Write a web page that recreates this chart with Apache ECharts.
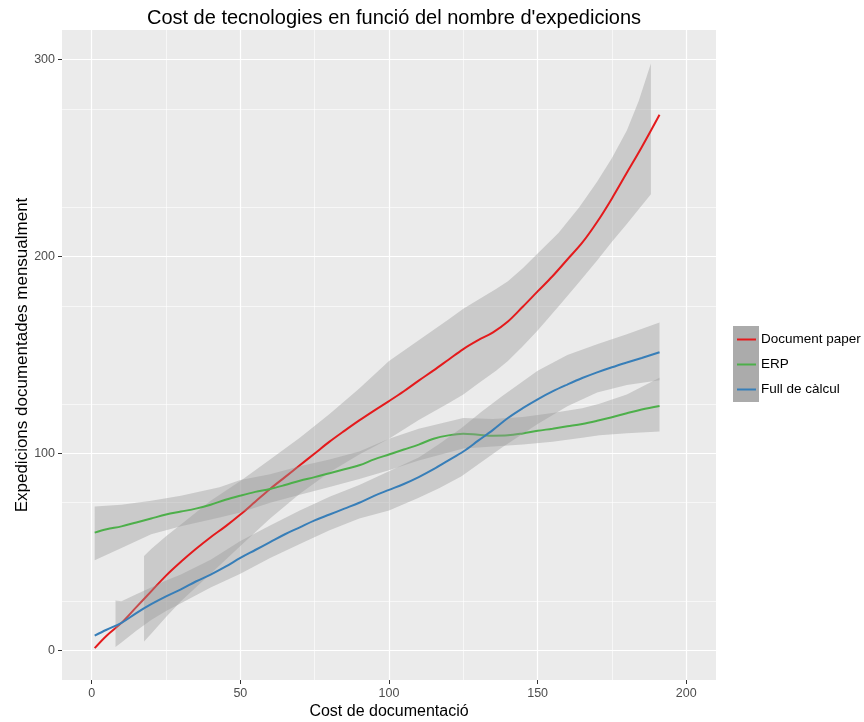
<!DOCTYPE html>
<html>
<head>
<meta charset="utf-8">
<script src="https://cdn.jsdelivr.net/npm/echarts@6/dist/echarts.min.js"></script>
<style>html,body{margin:0;padding:0;background:#fff}#c{width:864px;height:722px}</style>
</head>
<body>
<div id="c"></div>
<script>
// ---- tick labels ----
var xTicks = [0, 50, 100, 150, 200];
var yTicks = [0, 100, 200, 300];
var seriesNames = ['Document paper', 'ERP', 'Full de càlcul'];

// ---- smoothed lines ----
var paperX = [1, 5, 10, 15, 20, 25, 30, 35, 40, 45, 50, 55, 60, 65, 70, 75, 80, 85, 90, 95, 100, 105, 110, 115, 120, 125, 130, 135, 140, 145, 150, 155, 160, 165, 170, 175, 180, 185, 191];
var paperY = [1.2, 7.5, 14, 22, 30, 38, 45, 51.5, 57.5, 63, 69, 75.5, 82, 88, 94, 100, 106, 111.5, 116.8, 121.8, 126.6, 131.6, 137, 142.2, 147.6, 153, 157.5, 161.5, 167, 174.5, 182.3, 190, 198.5, 207, 217.5, 229.5, 242.5, 255.5, 272];

var erpX = [1, 5, 10, 15, 20, 25, 30, 35, 40, 45, 50, 55, 60, 65, 70, 75, 80, 85, 90, 95, 100, 105, 110, 115, 120, 125, 130, 135, 140, 145, 150, 155, 160, 165, 170, 175, 180, 185, 191];
var erpY = [59.8, 61.5, 63, 65, 67, 69, 70.5, 72, 74, 76.5, 78.6, 80.5, 82, 84, 86.2, 88, 90, 92, 94, 97, 99.5, 102, 104.5, 107.5, 109.2, 110, 109.5, 109, 109.2, 110.2, 111.5, 112.6, 113.8, 115, 116.6, 118.4, 120.4, 122.3, 124.1];

var fullX = [1, 5, 10, 15, 20, 25, 30, 35, 40, 45, 50, 55, 60, 65, 70, 75, 80, 85, 90, 95, 100, 105, 110, 115, 120, 125, 130, 135, 140, 145, 150, 155, 160, 165, 170, 175, 180, 185, 191];
var fullY = [7.5, 10.5, 14, 19, 23.5, 27.5, 31, 35, 38.5, 42.5, 47, 51, 55, 59, 62.5, 66, 69, 72, 75, 78.5, 81.5, 84.5, 88, 92, 96.5, 101, 106.5, 112, 118, 123, 127.5, 131.5, 135, 138.3, 141.2, 143.8, 146.2, 148.5, 151.4];

// ---- confidence bands (x, lower, upper) ----
var paperBandX  = [17.6, 20, 25, 30, 40, 50, 60, 70, 80, 90, 100, 110, 120, 125, 130, 136, 140, 145, 150, 157, 164, 170, 175, 180, 184, 188.1];
var paperBandLo = [4.6, 8.5, 17, 25, 39, 53, 67, 79.5, 90.5, 99.5, 107.5, 117, 125.5, 130, 135.5, 142, 147, 154.5, 162.5, 174.6, 187, 198, 207.5, 216.5, 224, 231.6];
var paperBandHi = [48, 51.5, 58, 64, 76, 86, 97, 108, 120, 133, 147, 157.5, 168, 173.5, 178, 183.5, 187.5, 194, 201.5, 212, 225, 238, 250, 264, 279, 298];

var erpBandX  = [1, 10, 20, 30, 43, 50, 60, 70, 80, 90, 100, 110, 125, 135, 145, 155, 165, 170.8, 180, 191];
var erpBandLo = [45.8, 52, 59, 63, 67.5, 70, 75, 79, 83, 87, 91.5, 96.5, 102.5, 103.5, 104.5, 106, 108, 109.2, 110.3, 111.2];
var erpBandHi = [73.1, 74, 76, 78.5, 82.8, 86.5, 89.5, 93.5, 97, 101, 107.5, 112.5, 118, 117.5, 118.5, 120.5, 123, 125.3, 130, 138.4];

var fullBandX  = [8, 10, 15, 20, 25, 30, 40, 50, 60, 70, 80, 90, 100, 110, 117, 124.4, 131, 138, 150, 160, 170, 180, 191];
var fullBandLo = [1.7, 4, 10, 15.5, 20, 24, 32, 39, 47, 54, 61, 67, 71, 77.5, 82.5, 88.5, 95.5, 103, 115, 124, 131, 134.8, 137.2];
var fullBandHi = [25.4, 25, 28.5, 32, 35.5, 38.5, 46, 55.6, 63.5, 71, 78, 84, 91, 98, 105, 113, 121, 129, 142, 150, 155.5, 160.5, 166.5];

var colors = ['#E41A1C', '#4DAF4A', '#377EB8'];
var FONT = '"Liberation Sans", Arial, sans-serif';

function zip(xs, ys) { return xs.map(function (x, i) { return [x, ys[i]]; }); }

function band(xs, lo, hi, z) {
  return {
    type: 'custom',
    silent: true,
    z: z,
    clip: true,
    data: xs.map(function (x, i) { return [x, lo[i], hi[i]]; }),
    encode: { x: 0, y: [1, 2] },
    renderItem: function (params, api) {
      if (params.dataIndex !== 0) return null;
      var pts = [];
      for (var i = 0; i < xs.length; i++) pts.push(api.coord([xs[i], hi[i]]));
      for (var j = xs.length - 1; j >= 0; j--) pts.push(api.coord([xs[j], lo[j]]));
      return { type: 'polygon', shape: { points: pts }, style: { fill: 'rgba(153,153,153,0.4)' } };
    }
  };
}

function line(name, xs, ys, color, z) {
  return {
    type: 'line', name: name, data: zip(xs, ys), z: z,
    showSymbol: false, smooth: 0.35, silent: true,
    lineStyle: { color: color, width: 2 }, itemStyle: { color: color }
  };
}

var chart = echarts.init(document.getElementById('c'), null, { renderer: 'canvas' });
chart.setOption({
  animation: false,
  backgroundColor: '#ffffff',
  title: {
    text: "Cost de tecnologies en funció del nombre d'expedicions",
    left: 389, top: 3, textAlign: 'center',
    textStyle: { fontFamily: FONT, fontSize: 20, fontWeight: 'normal', color: '#000' }
  },
  grid: {
    left: 62, right: 148, top: 30, bottom: 42,
    outerBoundsMode: 'none', containLabel: false,
    show: true, backgroundColor: '#EBEBEB', borderWidth: 0
  },
  legend: {
    orient: 'vertical', left: 737, top: 327, padding: 0, itemGap: 0,
    icon: 'rect', itemWidth: 19, itemHeight: 2,
    data: seriesNames,
    selectedMode: false,
    textStyle: { fontFamily: FONT, fontSize: 13.5, color: '#000', lineHeight: 25 }
  },
  graphic: [{
    type: 'rect', left: 733, top: 326, z: 0,
    shape: { width: 26, height: 76 },
    style: { fill: '#ABABAB' }
  }],
  xAxis: {
    type: 'value', min: -10, max: 210,
    name: 'Cost de documentació', nameLocation: 'middle', nameGap: 24, nameMoveOverlap: false,
    nameTextStyle: { fontFamily: FONT, fontSize: 16, color: '#000' },
    axisLine: { show: false, onZero: false },
    axisTick: { show: true, length: 4, lineStyle: { color: '#333', width: 1 }, customValues: xTicks },
    axisLabel: { customValues: xTicks, margin: 7, fontFamily: FONT, fontSize: 12.5, color: '#4D4D4D' },
    splitLine: { show: true, lineStyle: { color: '#ffffff', width: 1.2 } },
    minorTick: { show: false, splitNumber: 2 },
    minorSplitLine: { show: true, lineStyle: { color: '#ffffff', width: 0.6 } }
  },
  yAxis: {
    type: 'value', min: -15, max: 315,
    name: 'Expedicions documentades mensualment', nameLocation: 'middle', nameGap: 31, nameMoveOverlap: false,
    nameTextStyle: { fontFamily: FONT, fontSize: 17, color: '#000' },
    axisLine: { show: false, onZero: false },
    axisTick: { show: true, length: 4, lineStyle: { color: '#333', width: 1 }, customValues: yTicks },
    axisLabel: { customValues: yTicks, margin: 7, fontFamily: FONT, fontSize: 12.5, color: '#4D4D4D' },
    splitLine: { show: true, lineStyle: { color: '#ffffff', width: 1.2 } },
    minorTick: { show: false, splitNumber: 2 },
    minorSplitLine: { show: true, lineStyle: { color: '#ffffff', width: 0.6 } }
  },
  series: [
    band(paperBandX, paperBandLo, paperBandHi, 2),
    line(seriesNames[0], paperX, paperY, colors[0], 3),
    band(erpBandX, erpBandLo, erpBandHi, 4),
    line(seriesNames[1], erpX, erpY, colors[1], 5),
    band(fullBandX, fullBandLo, fullBandHi, 6),
    line(seriesNames[2], fullX, fullY, colors[2], 7)
  ]
});
</script>
</body>
</html>
